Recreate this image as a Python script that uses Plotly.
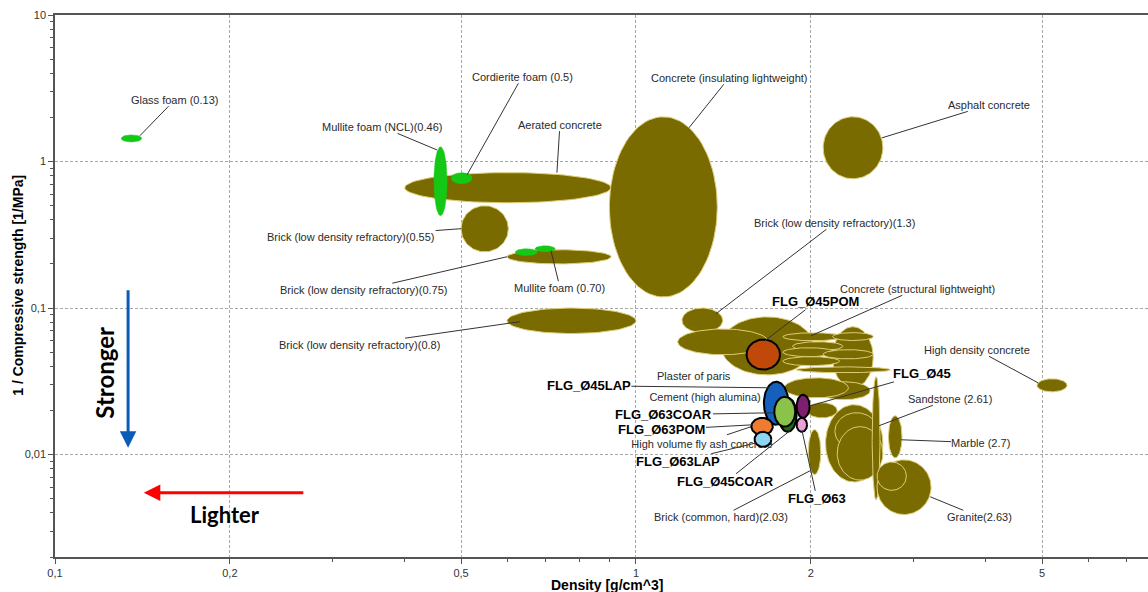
import numpy as np
import plotly.graph_objects as go

# ---------------- data ----------------
# Olive material bubbles: density range [g/cm^3] and 1/compressive strength range [1/MPa]
mat_names = [
    "Aerated concrete", "Brick (low density refractory)(0.55)", "Brick (low density refractory)(0.75)",
    "Concrete (insulating lightweight)", "Asphalt concrete", "Brick (low density refractory)(0.8)",
    "Concrete (lightweight) A", "Brick (low density refractory)(1.3)", "Plaster of paris",
    "Concrete (lightweight) B", "Concrete (structural lightweight) 1", "Concrete (structural lightweight) 2",
    "Concrete (structural lightweight) 3", "Concrete (structural lightweight) 4", "Concrete (lightweight) C",
    "Concrete (lightweight) D", "Concrete (normal) A", "Cement (high alumina)", "Concrete (normal) B",
    "Concrete (normal) C", "Stone A", "Stone B", "Stone C", "Sandstone (2.61)", "Marble (2.7)",
    "Granite(2.63)", "Granite (inner)", "Brick (common, hard)(2.03)", "High density concrete",
]
mat_rho_lo = [0.40, 0.50, 0.60, 0.90, 2.10, 0.60, 1.40, 1.20, 1.18, 2.18, 1.79, 1.86, 1.79, 1.79, 2.18,
              2.10, 2.06, 1.80, 1.89, 1.97, 2.12, 2.20, 2.22, 2.55, 2.72, 2.60, 2.60, 1.98, 4.90]
mat_rho_hi = [0.905, 0.603, 0.906, 1.38, 2.66, 1.00, 2.02, 1.41, 1.69, 2.56, 2.27, 2.27, 2.20, 2.24, 2.56,
              2.56, 2.53, 2.32, 2.74, 2.22, 2.66, 2.61, 2.66, 2.63, 2.87, 3.22, 2.92, 2.08, 5.52]
mat_inv_lo = [0.523, 0.242, 0.200, 0.119, 0.763, 0.067, 0.035, 0.068, 0.048, 0.0286, 0.0598, 0.0511,
              0.0466, 0.0404, 0.060, 0.045, 0.0237, 0.0244, 0.0362, 0.0178, 0.0065, 0.0108, 0.0067,
              0.0049, 0.0095, 0.0039, 0.0057, 0.0073, 0.0268]
mat_inv_hi = [0.84, 0.499, 0.250, 2.02, 2.02, 0.100, 0.087, 0.100, 0.072, 0.0745, 0.0678, 0.0589,
              0.0536, 0.0466, 0.068, 0.052, 0.0314, 0.0334, 0.0397, 0.0226, 0.0219, 0.0193, 0.0155,
              0.034, 0.0184, 0.0092, 0.0089, 0.0148, 0.0329]

# Green foam bubbles
foam_names = ["Glass foam (0.13)", "Mullite foam (NCL)(0.46)", "Cordierite foam (0.5)",
              "Mullite foam (0.70) a", "Mullite foam (0.70) b"]
foam_rho_lo = [0.130, 0.449, 0.481, 0.620, 0.670]
foam_rho_hi = [0.141, 0.473, 0.522, 0.676, 0.726]
foam_inv_lo = [1.36, 0.427, 0.705, 0.228, 0.242]
foam_inv_hi = [1.52, 1.26, 0.839, 0.254, 0.266]

# FLG samples
flg_names = ["FLG_Ø45POM", "FLG_Ø45LAP", "FLG_Ø45COAR", "FLG_Ø63COAR", "FLG_Ø45", "FLG_Ø63",
             "FLG_Ø63POM", "FLG_Ø63LAP"]
flg_rho_lo = [1.55, 1.66, 1.76, 1.73, 1.89, 1.89, 1.58, 1.60]
flg_rho_hi = [1.77, 1.83, 1.89, 1.88, 1.99, 1.97, 1.72, 1.71]
flg_inv_lo = [0.038, 0.0160, 0.0143, 0.0155, 0.0178, 0.0143, 0.0136, 0.0113]
flg_inv_hi = [0.061, 0.0314, 0.0244, 0.0248, 0.0256, 0.0178, 0.0178, 0.0143]
flg_colors = ["#C0490A", "#1560BD", "#1E6B1E", "#8BC34A", "#7E1E6E", "#EBA0D8", "#EE7B30", "#8ED4F6"]

# Labels with leader lines: text, target density, target 1/strength
lab_text = ["Glass foam (0.13)", "Cordierite foam (0.5)", "Mullite foam (NCL)(0.46)", "Aerated concrete",
            "Concrete (insulating lightweight)", "Asphalt concrete", "Brick (low density refractory)(0.55)",
            "Brick (low density refractory)(0.75)", "Mullite foam (0.70)", "Brick (low density refractory)(0.8)",
            "Brick (low density refractory)(1.3)", "Concrete (structural lightweight)", "Plaster of paris",
            "Brick (common, hard)(2.03)", "Sandstone (2.61)", "Marble (2.7)", "Granite(2.63)",
            "High density concrete",
            "FLG_Ø45POM", "FLG_Ø45LAP", "FLG_Ø63COAR", "FLG_Ø63POM", "FLG_Ø63LAP", "FLG_Ø45COAR",
            "FLG_Ø63", "FLG_Ø45"]
lab_rho = [0.140, 0.512, 0.4545, 0.731, 1.234, 2.65, 0.50, 0.600, 0.714, 0.631, 1.373, 2.001, 1.274,
           1.993, 2.62, 2.858, 3.21, 4.92,
           1.667, 1.70, 1.721, 1.590, 1.615, 1.841, 1.931, 1.993]
lab_inv = [1.50, 0.812, 1.20, 0.839, 1.70, 1.45, 0.348, 0.224, 0.246, 0.0807, 0.0914, 0.0647, 0.0536,
           0.00775, 0.01573, 0.01262, 0.00515, 0.0309,
           0.0598, 0.02857, 0.01929, 0.01597, 0.01205, 0.01454, 0.01454, 0.0215]
lab_bold = [False] * 18 + [True] * 8
# text offsets from the target point, in pixels
lab_dx = [35, 55, -55, 3, 40, 107, -110, -143, 9, -160, 119, 106, -3, -89, 71, 80, 49, -61,
          51, -181, -109, -91, -79, -64, 15, 112]
lab_dy = [-36, -98, -23, -48, -50, -33, 8, 33, 37, 23, -91, -47, 28, 46, -27, 3, 20, -33,
          -39, -2, 2, 5, 19, 51, 68, -32]

# Labels drawn beneath the FLG bubbles
under_text = ["Cement (high alumina)", "High volume fly ash concrete"]
under_rho = [1.315, 1.299]
under_inv = [0.0244, 0.01150]
flyash_leader_rho = [1.434, 1.634]
flyash_leader_inv = [0.01365, 0.01623]

x_tickvals = [0.1, 0.2, 0.5, 1, 2, 5]
x_ticktext = ["0,1", "0,2", "0,5", "1", "2", "5"]
y_tickvals = [0.01, 0.1, 1, 10]
y_ticktext = ["0,01", "0,1", "1", "10"]

# ---------------- styling ----------------
OLIVE = "#7A6B00"
OLIVE_EDGE = "#DCCD78"
GREEN = "#16C816"
FONT = "Liberation Sans, Arial, sans-serif"


def ellipse(x0, x1, y0, y1, n=90):
    cx, rx = (np.log10(x0) + np.log10(x1)) / 2, (np.log10(x1) - np.log10(x0)) / 2
    cy, ry = (np.log10(y0) + np.log10(y1)) / 2, (np.log10(y1) - np.log10(y0)) / 2
    t = np.linspace(0, 2 * np.pi, n)
    return 10 ** (cx + rx * np.cos(t)), 10 ** (cy + ry * np.sin(t))


fig = go.Figure()

for i, name in enumerate(mat_names):
    ex, ey = ellipse(mat_rho_lo[i], mat_rho_hi[i], mat_inv_lo[i], mat_inv_hi[i])
    fig.add_trace(go.Scatter(x=ex, y=ey, mode="lines", fill="toself", fillcolor=OLIVE,
                             line=dict(color=OLIVE_EDGE, width=1), name=name, hoverinfo="name"))

for i, name in enumerate(foam_names):
    ex, ey = ellipse(foam_rho_lo[i], foam_rho_hi[i], foam_inv_lo[i], foam_inv_hi[i])
    fig.add_trace(go.Scatter(x=ex, y=ey, mode="lines", fill="toself", fillcolor=GREEN,
                             line=dict(color=GREEN, width=0.5), name=name, hoverinfo="name"))

# texts beneath FLG bubbles
fig.add_trace(go.Scatter(x=under_rho, y=under_inv, mode="text", text=under_text,
                         textfont=dict(family=FONT, size=11, color="#2a2a2a"), hoverinfo="skip"))
fig.add_trace(go.Scatter(x=flyash_leader_rho, y=flyash_leader_inv, mode="lines",
                         line=dict(color="#333333", width=1), hoverinfo="skip"))

for i, name in enumerate(flg_names):
    ex, ey = ellipse(flg_rho_lo[i], flg_rho_hi[i], flg_inv_lo[i], flg_inv_hi[i])
    fig.add_trace(go.Scatter(x=ex, y=ey, mode="lines", fill="toself", fillcolor=flg_colors[i],
                             line=dict(color="black", width=2), name=name, hoverinfo="name"))

annotations = []
for i, t in enumerate(lab_text):
    bold = lab_bold[i]
    annotations.append(dict(
        x=np.log10(lab_rho[i]), y=np.log10(lab_inv[i]), xref="x", yref="y",
        text=f"<b>{t}</b>" if bold else t, showarrow=True, arrowhead=0, arrowwidth=1,
        arrowcolor="#333333", ax=lab_dx[i], ay=lab_dy[i], standoff=0, borderpad=0,
        font=dict(family=FONT, size=13 if bold else 11, color="black" if bold else "#2a2a2a")))

# Stronger / Lighter arrows
annotations.append(dict(x=np.log10(0.1336), y=np.log10(0.01112), xref="x", yref="y", text="",
                        showarrow=True, arrowhead=2, arrowsize=1.1, arrowwidth=3, arrowcolor="#0B5CB8",
                        ax=0, ay=-159, standoff=0))
annotations.append(dict(x=np.log10(0.1422), y=np.log10(0.00548), xref="x", yref="y", text="",
                        showarrow=True, arrowhead=2, arrowsize=1.1, arrowwidth=3, arrowcolor="#FF0000",
                        ax=161, ay=0, standoff=0))
annotations.append(dict(x=np.log10(0.1219), y=np.log10(0.0362), xref="x", yref="y", text="<b>Stronger</b>",
                        showarrow=False, textangle=-90, font=dict(family="Lato, sans-serif", size=24, color="black")))
annotations.append(dict(x=np.log10(0.1962), y=np.log10(0.00388), xref="x", yref="y", text="<b>Lighter</b>",
                        showarrow=False, font=dict(family="Lato, sans-serif", size=22, color="black")))

# axis titles
annotations.append(dict(x=0.505, y=-0.052, xref="paper", yref="paper", text="<b>Density [g/cm^3]</b>",
                        showarrow=False, yanchor="middle", font=dict(family=FONT, size=14, color="black")))
annotations.append(dict(x=-0.034, y=0.502, xref="paper", yref="paper",
                        text="<b>1 / Compressive strength [1/MPa]</b>", textangle=-90,
                        showarrow=False, xanchor="center", font=dict(family=FONT, size=14, color="black")))

x_minor = [v * m for v in (0.1, 1) for m in range(2, 10)]
y_minor = [v * m for v in (0.001, 0.01, 0.1, 1) for m in range(2, 10)]

axis_common = dict(showline=True, linecolor="#555555", linewidth=1.5, ticks="outside", ticklen=5,
                   tickcolor="#555555", tickfont=dict(family=FONT, size=11, color="#333333"),
                   showgrid=True, gridcolor="#A8A8A8", gridwidth=1, griddash="3px,2px", zeroline=False)

fig.update_layout(
    width=1148, height=592, margin=dict(l=55, r=0, t=15, b=35),
    plot_bgcolor="white", paper_bgcolor="white", showlegend=False, hovermode="closest",
    annotations=annotations,
    xaxis=dict(type="log", range=[-1, 0.8813], tickvals=x_tickvals, ticktext=x_ticktext, mirror=True,
               minor=dict(tickvals=x_minor, ticks="outside", ticklen=3, tickcolor="#555555", showgrid=False),
               **axis_common),
    yaxis=dict(type="log", range=[np.log10(0.002), 1.0], tickvals=y_tickvals, ticktext=y_ticktext,
               minor=dict(tickvals=y_minor, ticks="outside", ticklen=3, tickcolor="#555555", showgrid=False),
               **axis_common),
)

# remove the default page margin so the figure sits at the window's top-left corner
fig.write_html("out.html", config={"displayModeBar": False},
               post_script="document.body.style.margin='0';document.body.style.overflow='hidden';")
